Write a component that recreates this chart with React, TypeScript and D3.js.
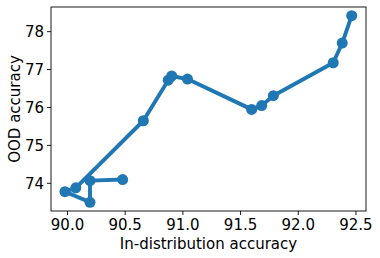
import React from "react";
import * as d3 from "d3";

const inDist = [90.478, 90.195, 90.195, 89.978, 90.072, 90.657, 90.873, 90.903, 91.04, 91.596, 91.683, 91.784, 92.303, 92.381, 92.463];
const ood = [74.1, 74.07, 73.5, 73.78, 73.88, 75.65, 76.72, 76.83, 76.75, 75.95, 76.05, 76.31, 77.18, 77.7, 78.42];
const xTicks = [90.0, 90.5, 91.0, 91.5, 92.0, 92.5];
const yTicks = [74, 75, 76, 77, 78];

const W = 380, H = 258;
const L = 51, R = 366, T = 7, B = 211;
const FONT = "DejaVu Sans, sans-serif";
const COLOR = "#1f77b4";
const FS = 15;

export default function App() {
  const x = d3.scaleLinear().domain([89.857, 92.587]).range([L, R]);
  const y = d3.scaleLinear().domain([73.27, 78.65]).range([B, T]);
  const pts = inDist.map((v, i) => [x(v), y(ood[i])] as [number, number]);
  const line = d3.line()(pts) || "";
  return (
    <svg width={W} height={H} style={{ position: "absolute", left: 0, top: 0, background: "#fff" }}>
      <path d={line} fill="none" stroke={COLOR} strokeWidth={3.9} strokeLinejoin="round" strokeLinecap="butt" />
      {pts.map((p, i) => (
        <circle key={i} cx={p[0]} cy={p[1]} r={5.5} fill={COLOR} />
      ))}
      <rect x={L} y={T} width={R - L} height={B - T} fill="none" stroke="#000" strokeWidth={0.9} />
      {xTicks.map((t) => (
        <g key={t}>
          <line x1={x(t)} x2={x(t)} y1={B} y2={B + 4} stroke="#000" strokeWidth={0.9} />
          <text x={x(t)} y={B + 19} textAnchor="middle" fontFamily={FONT} fontSize={FS} fill="#000">
            {t.toFixed(1)}
          </text>
        </g>
      ))}
      {yTicks.map((t) => (
        <g key={t}>
          <line x1={L - 4} x2={L} y1={y(t)} y2={y(t)} stroke="#000" strokeWidth={0.9} />
          <text x={L - 7} y={y(t)} dy="0.36em" textAnchor="end" fontFamily={FONT} fontSize={FS} fill="#000">
            {t}
          </text>
        </g>
      ))}
      <text x={(L + R) / 2} y={249} textAnchor="middle" fontFamily={FONT} fontSize={FS} fill="#000">
        In-distribution accuracy
      </text>
      <text transform={`translate(20,${(T + B) / 2}) rotate(-90)`} textAnchor="middle" fontFamily={FONT} fontSize={FS} fill="#000">
        OOD accuracy
      </text>
    </svg>
  );
}
